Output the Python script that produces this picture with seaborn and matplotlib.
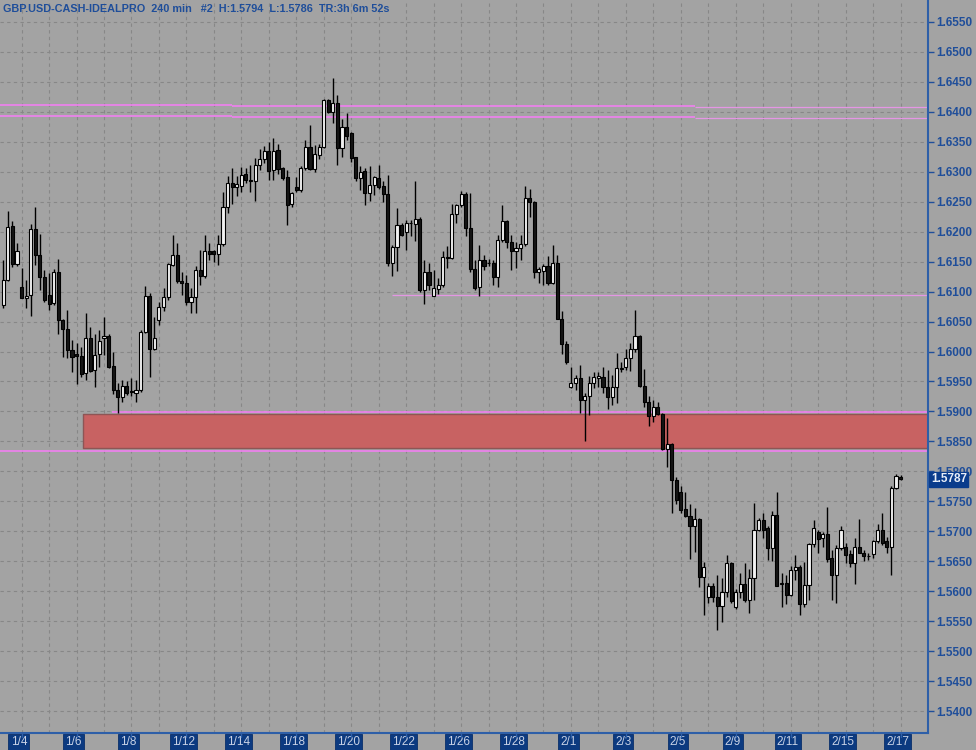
import numpy as np
import pandas as pd
import matplotlib
matplotlib.use("Agg")
import matplotlib.pyplot as plt
import matplotlib.transforms as mtransforms
import seaborn as sns

# ---------------- data (4-hour bars, GBP/USD) ----------------
opens = [1.6078,1.6119,1.6210,1.6146,1.6108,1.6089,1.6094,1.6204,1.6161,1.6124,
         1.6094,1.6081,1.6133,1.6052,1.6037,1.6003,1.5996,1.5993,1.5964,1.6022,
         1.5969,1.5996,1.6022,1.6026,1.5976,1.5936,1.5924,1.5943,1.5934,1.5931,
         1.5935,1.6033,1.6092,1.6004,1.6053,1.6074,1.6091,1.6145,1.6161,1.6118,
         1.6115,1.6082,1.6091,1.6136,1.6126,1.6168,1.6167,1.6163,1.6180,1.6242,
         1.6282,1.6274,1.6276,1.6296,1.6287,1.6284,1.6311,1.6321,1.6334,1.6303,
         1.6336,1.6306,1.6291,1.6246,1.6275,1.6270,1.6306,1.6342,1.6304,1.6328,
         1.6342,1.6420,1.6400,1.6415,1.6339,1.6375,1.6364,1.6324,1.6289,1.6302,
         1.6265,1.6278,1.6289,1.6276,1.6263,1.6148,1.6175,1.6211,1.6200,1.6214,
         1.6213,1.6222,1.6102,1.6133,1.6093,1.6104,1.6111,1.6158,1.6156,1.6230,
         1.6245,1.6263,1.6206,1.6137,1.6107,1.6153,1.6148,1.6148,1.6125,1.6186,
         1.6218,1.6182,1.6167,1.6172,1.6180,1.6256,1.6250,1.6133,1.6135,1.6143,
         1.6114,1.6147,1.6055,1.6013,1.5941,1.5948,1.5955,1.5919,1.5925,1.5947,
         1.5955,1.5957,1.5941,1.5924,1.5941,1.5970,1.5974,1.5990,1.6004,1.6026,
         1.5942,1.5915,1.5892,1.5907,1.5896,1.5837,1.5846,1.5786,1.5766,1.5737,
         1.5726,1.5709,1.5720,1.5624,1.5591,1.5609,1.5591,1.5575,1.5598,1.5647,
         1.5573,1.5599,1.5612,1.5585,1.5622,1.5702,1.5718,1.5705,1.5672,1.5727,
         1.5612,1.5613,1.5594,1.5635,1.5640,1.5579,1.5610,1.5679,1.5699,1.5688,
         1.5696,1.5655,1.5627,1.5672,1.5673,1.5662,1.5647,1.5673,1.5664,1.5658,
         1.5662,1.5683,1.5702,1.5683,1.5673,1.5773,1.5790]
highs = [1.6153,1.6235,1.6218,1.6181,1.6139,1.6120,1.6213,1.6241,1.6196,1.6136,
         1.6131,1.6137,1.6154,1.6055,1.6070,1.6019,1.6014,1.6008,1.6064,1.6041,
         1.6030,1.6036,1.6057,1.6030,1.6000,1.5948,1.5953,1.5951,1.5955,1.5953,
         1.6036,1.6110,1.6098,1.6058,1.6083,1.6106,1.6148,1.6195,1.6181,1.6133,
         1.6128,1.6106,1.6142,1.6170,1.6195,1.6181,1.6170,1.6195,1.6267,1.6293,
         1.6306,1.6293,1.6308,1.6306,1.6311,1.6323,1.6338,1.6343,1.6350,1.6356,
         1.6346,1.6308,1.6303,1.6267,1.6292,1.6309,1.6353,1.6378,1.6345,1.6346,
         1.6421,1.6421,1.6456,1.6428,1.6388,1.6398,1.6367,1.6325,1.6309,1.6306,
         1.6309,1.6293,1.6311,1.6284,1.6295,1.6178,1.6239,1.6214,1.6220,1.6220,
         1.6284,1.6225,1.6152,1.6147,1.6136,1.6122,1.6167,1.6176,1.6247,1.6247,
         1.6268,1.6267,1.6264,1.6153,1.6178,1.6161,1.6154,1.6153,1.6195,1.6245,
         1.6220,1.6195,1.6183,1.6195,1.6276,1.6271,1.6252,1.6141,1.6146,1.6160,
         1.6178,1.6161,1.6067,1.6017,1.5975,1.5961,1.5978,1.5930,1.5959,1.5966,
         1.5965,1.5974,1.5969,1.5961,1.5997,1.5983,1.6005,1.6015,1.6069,1.6028,
         1.5970,1.5925,1.5919,1.5916,1.5897,1.5889,1.5847,1.5791,1.5775,1.5765,
         1.5746,1.5738,1.5722,1.5649,1.5614,1.5613,1.5627,1.5622,1.5660,1.5649,
         1.5603,1.5631,1.5647,1.5637,1.5748,1.5722,1.5730,1.5708,1.5733,1.5766,
         1.5630,1.5627,1.5642,1.5660,1.5644,1.5649,1.5681,1.5718,1.5702,1.5698,
         1.5741,1.5669,1.5677,1.5708,1.5680,1.5669,1.5688,1.5720,1.5669,1.5664,
         1.5685,1.5712,1.5731,1.5691,1.5775,1.5796,1.5794]
lows = [1.6072,1.6117,1.6141,1.6142,1.6089,1.6072,1.6059,1.6144,1.6103,1.6083,
        1.6069,1.6078,1.6029,1.5991,1.5989,1.5966,1.5946,1.5958,1.5952,1.5966,
        1.5941,1.5975,1.5994,1.5972,1.5929,1.5898,1.5916,1.5928,1.5925,1.5916,
        1.5933,1.6031,1.5958,1.6003,1.6044,1.6068,1.6086,1.6142,1.6114,1.6094,
        1.6078,1.6064,1.6065,1.6111,1.6122,1.6153,1.6150,1.6145,1.6176,1.6232,
        1.6247,1.6259,1.6267,1.6282,1.6267,1.6252,1.6303,1.6315,1.6286,1.6286,
        1.6297,1.6286,1.6211,1.6242,1.6267,1.6267,1.6303,1.6303,1.6300,1.6321,
        1.6339,1.6398,1.6381,1.6311,1.6324,1.6353,1.6317,1.6285,1.6270,1.6245,
        1.6252,1.6261,1.6272,1.6249,1.6142,1.6126,1.6135,1.6192,1.6170,1.6193,
        1.6185,1.6100,1.6079,1.6103,1.6092,1.6096,1.6108,1.6139,1.6154,1.6214,
        1.6242,1.6192,1.6133,1.6103,1.6093,1.6136,1.6142,1.6111,1.6107,1.6183,
        1.6172,1.6136,1.6139,1.6153,1.6176,1.6225,1.6122,1.6115,1.6111,1.6111,
        1.6113,1.6054,1.5996,1.5979,1.5939,1.5936,1.5898,1.5851,1.5894,1.5939,
        1.5941,1.5931,1.5904,1.5911,1.5914,1.5966,1.5969,1.5968,1.6000,1.5940,
        1.5908,1.5876,1.5883,1.5894,1.5836,1.5807,1.5731,1.5746,1.5730,1.5724,
        1.5653,1.5666,1.5607,1.5560,1.5581,1.5582,1.5535,1.5549,1.5591,1.5580,
        1.5570,1.5588,1.5582,1.5563,1.5585,1.5701,1.5688,1.5652,1.5651,1.5608,
        1.5573,1.5579,1.5592,1.5618,1.5560,1.5574,1.5585,1.5673,1.5664,1.5673,
        1.5649,1.5585,1.5581,1.5669,1.5647,1.5641,1.5612,1.5663,1.5651,1.5652,
        1.5655,1.5680,1.5677,1.5664,1.5627,1.5770,1.5786]
closes = [1.6119,1.6208,1.6146,1.6168,1.6090,1.6093,1.6204,1.6161,1.6125,1.6086,
          1.6079,1.6132,1.6053,1.6037,1.6003,1.5991,1.5993,1.5962,1.6022,1.5968,
          1.5995,1.6018,1.6026,1.5975,1.5936,1.5924,1.5943,1.5930,1.5932,1.5936,
          1.6033,1.6092,1.6004,1.6022,1.6074,1.6091,1.6146,1.6161,1.6117,1.6114,
          1.6082,1.6091,1.6136,1.6126,1.6168,1.6163,1.6163,1.6180,1.6242,1.6282,
          1.6274,1.6280,1.6295,1.6286,1.6284,1.6311,1.6321,1.6335,1.6302,1.6335,
          1.6304,1.6289,1.6245,1.6264,1.6270,1.6306,1.6342,1.6304,1.6330,1.6342,
          1.6420,1.6400,1.6414,1.6339,1.6375,1.6360,1.6323,1.6289,1.6300,1.6265,
          1.6278,1.6292,1.6275,1.6263,1.6148,1.6175,1.6211,1.6195,1.6215,1.6215,
          1.6222,1.6102,1.6132,1.6111,1.6106,1.6111,1.6158,1.6156,1.6230,1.6245,
          1.6263,1.6206,1.6137,1.6106,1.6152,1.6142,1.6147,1.6125,1.6186,1.6218,
          1.6182,1.6167,1.6172,1.6180,1.6256,1.6249,1.6133,1.6137,1.6143,1.6114,
          1.6147,1.6055,1.6013,1.5983,1.5948,1.5955,1.5919,1.5925,1.5947,1.5957,
          1.5959,1.5941,1.5924,1.5941,1.5972,1.5972,1.5990,1.6004,1.6026,1.5942,
          1.5915,1.5892,1.5907,1.5896,1.5837,1.5846,1.5785,1.5753,1.5736,1.5726,
          1.5709,1.5720,1.5624,1.5641,1.5609,1.5591,1.5575,1.5598,1.5647,1.5583,
          1.5599,1.5612,1.5585,1.5622,1.5702,1.5719,1.5702,1.5672,1.5727,1.5609,
          1.5613,1.5594,1.5635,1.5640,1.5579,1.5610,1.5679,1.5705,1.5687,1.5696,
          1.5653,1.5627,1.5672,1.5702,1.5660,1.5647,1.5673,1.5664,1.5658,1.5659,
          1.5683,1.5702,1.5681,1.5673,1.5773,1.5792,1.5787]

date_labels = ["1/4", "1/6", "1/8", "1/12", "1/14", "1/18", "1/20", "1/22", "1/26",
               "1/28", "2/1", "2/3", "2/5", "2/9", "2/11", "2/15", "2/17"]
first_label_bar = 4
bars_per_label = 12
bars_per_day = 6

price_ticks = [1.5400, 1.5450, 1.5500, 1.5550, 1.5600, 1.5650, 1.5700, 1.5750,
               1.5800, 1.5850, 1.5900, 1.5950, 1.6000, 1.6050, 1.6100, 1.6150,
               1.6200, 1.6250, 1.6300, 1.6350, 1.6400, 1.6450, 1.6500, 1.6550]

resistance_levels_a = [1.64115, 1.63936]   # older pair (left part)
resistance_levels_b = [1.64098, 1.63920]   # middle pair
resistance_levels_c = [1.64077, 1.63900]   # right pair
support_level = 1.6095
zone_line_top = 1.58986
zone_box_top = 1.58957
zone_box_bottom = 1.58385
zone_line_bottom = 1.58340
last_price = 1.5787
last_price_text = "1.5787"
title_text = "GBP.USD-CASH-IDEALPRO  240 min   #2  H:1.5794  L:1.5786  TR:3h 6m 52s"

# ---------------- style ----------------
BG = "#A3A3A3"
GRID = "#878787"
BLUE = "#1F4E9A"
DARKBLUE = "#0C3A80"
PINK = "#F080F0"

sns.set_theme(style="darkgrid", rc={
    "axes.facecolor": BG, "figure.facecolor": BG, "grid.color": GRID,
    "grid.linestyle": (0, (3, 3)), "grid.linewidth": 0.8,
})
plt.rcParams["font.family"] = ["Liberation Sans", "DejaVu Sans"]

df = pd.DataFrame({"open": opens, "high": highs, "low": lows, "close": closes})
df["idx"] = np.arange(len(df))
df["up"] = df["close"] >= df["open"]

W, H = 976, 750
fig = plt.figure(figsize=(W / 100, H / 100), dpi=100)
ax = fig.add_axes([0, (H - 733) / H, 928 / W, 733 / H])

px_per_bar = 4.58
x0_px = 3.3
def px2x(p):
    return (p - x0_px) / px_per_bar

ax.set_xlim(px2x(0), px2x(928))
ax.set_ylim(1.53633, 1.65867)
xl = ax.get_xlim()

# zone and levels
ax.fill_between([px2x(83.5), xl[1] + 1], zone_box_bottom, zone_box_top,
                facecolor="#C86262", edgecolor="#8E5555", lw=1.0, zorder=1)
ax.hlines(zone_line_top, px2x(112), xl[1], color=PINK, lw=1.2, zorder=2)
ax.hlines(zone_line_bottom, xl[0], xl[1], color=PINK, lw=1.2, zorder=2)

for lv in resistance_levels_a:
    ax.hlines(lv, xl[0], px2x(232), color=PINK, lw=1.2, zorder=2)
for lv in resistance_levels_b:
    ax.hlines(lv, px2x(232), px2x(695), color=PINK, lw=1.2, zorder=2)
for lv in resistance_levels_c:
    ax.hlines(lv, px2x(695), xl[1], color="#E496E4", lw=0.9, zorder=2)
ax.hlines(support_level, px2x(392), xl[1], color="#E496E4", lw=0.9, zorder=2)

# candles
body_w = 0.68
ax.vlines(df["idx"], df["low"], df["high"], color="black", lw=1.0, zorder=3)
body_bottom = np.minimum(df["open"], df["close"])
body_h = np.maximum(np.abs(df["close"] - df["open"]), 0.00006)
ax.bar(df["idx"], body_h, bottom=body_bottom, width=body_w,
       color=np.where(df["up"], "#F2F2F2", "#151515"),
       edgecolor="black", linewidth=0.8, zorder=4)

# grid positions
day_ticks = np.arange(first_label_bar % bars_per_day, len(df) + 6, bars_per_day)
ax.set_xticks(day_ticks)
ax.set_xticklabels([])
ax.set_yticks(price_ticks)
ax.yaxis.tick_right()
ax.tick_params(axis="y", colors=BLUE, labelsize=8.5, length=4, width=1,
               direction="out", pad=2, right=True)
for lbl in ax.get_yticklabels():
    lbl.set_fontweight("bold")
ax.yaxis.set_major_formatter(matplotlib.ticker.FormatStrFormatter("%.4f"))
ax.tick_params(axis="x", length=0)

for s in ["left", "top"]:
    ax.spines[s].set_visible(False)
for s in ["right", "bottom"]:
    ax.spines[s].set_visible(True)
    ax.spines[s].set_color("#2E5FA8")
    ax.spines[s].set_linewidth(1.5)

# date labels in boxes
trans = mtransforms.blended_transform_factory(ax.transData, ax.transAxes)
for k, lab in enumerate(date_labels):
    xi = first_label_bar + k * bars_per_label
    ax.plot([xi, xi], [0, -0.006], transform=trans, color="#2E5FA8", lw=1,
            clip_on=False, zorder=5)
    ax.text(xi - 0.6, -0.0045, lab, transform=trans, ha="center", va="top",
            fontsize=8.5, color="#C8D2E6",
            bbox=dict(boxstyle="square,pad=0.18", fc=DARKBLUE, ec="#0A2F6A", lw=0.6),
            clip_on=False)

# last price tag (sits just under the 1.5800 label, as in the original)
ax.text(1.003, last_price - 0.00005, last_price_text,
        transform=mtransforms.blended_transform_factory(ax.transAxes, ax.transData),
        ha="left", va="center", fontsize=8.5, fontweight="bold", color="#E8EEF8",
        bbox=dict(boxstyle="square,pad=0.12", fc="#0A3C8C", ec="#0A3C8C"),
        clip_on=False, zorder=6)

# title
fig.text(3 / W, 1 - 9 / H, title_text, ha="left", va="center", fontsize=7.8,
         fontweight="bold", color=BLUE)

fig.savefig("out.png", dpi=100, facecolor=BG)
